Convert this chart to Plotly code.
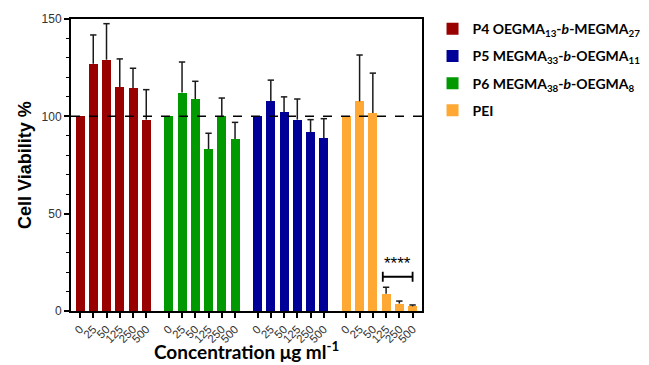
import plotly.graph_objects as go

# ---- data ----
concentrations = ["0", "25", "50", "125", "250", "500"]
series_names = [
    "<b>P4 OEGMA<sub>13</sub>-<i>b</i>-MEGMA<sub>27</sub></b>",
    "<b>P6 MEGMA<sub>38</sub>-<i>b</i>-OEGMA<sub>8</sub></b>",
    "<b>P5 MEGMA<sub>33</sub>-<i>b</i>-OEGMA<sub>11</sub></b>",
    "<b>PEI</b>",
]
p4_values = [100, 127.0, 129.1, 115.1, 114.6, 98.3]
p4_errors = [0, 14.8, 18.5, 14.4, 10.1, 15.4]
p6_values = [100, 112.2, 108.9, 83.2, 100, 88.4]
p6_errors = [0, 15.7, 9.1, 8.1, 9.4, 8.5]
p5_values = [100, 107.7, 102.1, 98.3, 91.8, 88.7]
p5_errors = [0, 10.9, 7.9, 10.6, 6.5, 10.1]
pei_values = [100, 107.7, 101.7, 8.9, 3.8, 2.4]
pei_errors = [0, 23.8, 20.5, 3.3, 1.3, 0.7]
legend_ranks = [1, 3, 2, 4]
colors = ["#990000", "#009900", "#000099", "#FFA833"]
y_ticks = [0, 50, 100, 150]
sig_label = "****"

values = [p4_values, p6_values, p5_values, pei_values]
errors = [p4_errors, p6_errors, p5_errors, pei_errors]

group_step = 6.7
bar_width = 0.68
cap_half = 0.24

fig = go.Figure()
tickvals, ticktext = [], []
ex, ey = [], []
positions = []
for g, (name, vals, errs, col, rank) in enumerate(zip(series_names, values, errors, colors, legend_ranks)):
    xs = [g * group_step + i for i in range(len(concentrations))]
    positions.append(xs)
    tickvals += xs
    ticktext += concentrations
    fig.add_trace(go.Bar(
        x=xs, y=vals, name=name, marker=dict(color=col, line=dict(width=0)),
        width=bar_width, legendrank=rank, legendgroup=str(g),
    ))
    for x, v, e in zip(xs, vals, errs):
        if e > 0:
            ex += [x, x, None, x - cap_half, x + cap_half, None]
            ey += [v, v + e, None, v + e, v + e, None]

fig.add_trace(go.Scatter(x=ex, y=ey, mode="lines", line=dict(color="#1a1a1a", width=1.5),
                         showlegend=False, hoverinfo="skip"))

# reference line at 100 %
fig.add_shape(type="line", xref="paper", x0=0, x1=1, yref="y", y0=100, y1=100,
              line=dict(color="black", width=1.5, dash="dash"))

# significance bracket over PEI 125-500
pei_x = positions[3]
sig_y = max(v + e for v, e in zip(pei_values[3:], pei_errors[3:])) + 5.4
bx0, bx1 = pei_x[3] - 0.25, pei_x[5]
fig.add_shape(type="path",
              path=f"M {bx0},{sig_y-2.6} L {bx0},{sig_y+2.6} M {bx0},{sig_y} L {bx1},{sig_y} "
                   f"M {bx1},{sig_y-2.6} L {bx1},{sig_y+2.6}",
              line=dict(color="black", width=1.8))
fig.add_annotation(x=(bx0 + bx1) / 2, y=sig_y, yshift=2, text=sig_label, showarrow=False,
                   yanchor="bottom", font=dict(family="Liberation Sans", size=17, color="black"))

# axis titles
fig.add_annotation(xref="paper", yref="paper", x=0.5, y=0, yshift=-39, yanchor="middle",
                   text="<b>Concentration μg ml<sup>-1</sup></b>", showarrow=False,
                   font=dict(family="Lato", size=19, color="black"))
fig.add_annotation(xref="paper", yref="paper", x=0, xshift=-46, y=0.5, textangle=-90,
                   xanchor="center", text="<b>Cell Viability %</b>", showarrow=False,
                   font=dict(family="Liberation Sans", size=18, color="black"))

# page body has an 8px default margin, so the figure is sized 8px smaller
fig.update_layout(
    width=641, height=357,
    margin=dict(l=63, r=227, t=11, b=54, autoexpand=False),
    plot_bgcolor="white", paper_bgcolor="white",
    bargap=0, showlegend=True,
    legend=dict(x=1.03, y=1.02, xanchor="left", yanchor="top",
                font=dict(family="Lato", size=14, color="black"),
                tracegroupgap=6, bgcolor="rgba(0,0,0,0)"),
    xaxis=dict(
        range=[-0.68, 25.81], tickmode="array", tickvals=tickvals, ticktext=ticktext,
        tickangle=-45, ticks="outside", ticklen=5, tickwidth=1.5, tickcolor="black",
        showline=True, linecolor="black", linewidth=2, mirror=True, showgrid=False, zeroline=False,
        tickfont=dict(family="Liberation Sans", size=11.5, color="#333333"), automargin=False,
    ),
    yaxis=dict(
        range=[0, 150], tickvals=y_ticks, ticks="outside", ticklen=5, tickwidth=1.5, tickcolor="black",
        minor=dict(dtick=10, ticks="outside", ticklen=3, tickwidth=1.2, tickcolor="black"),
        showline=True, linecolor="black", linewidth=2, mirror=True, showgrid=False, zeroline=False,
        tickfont=dict(family="Liberation Sans", size=12, color="#333333"), automargin=False,
    ),
)

fig.write_html("out.html")
